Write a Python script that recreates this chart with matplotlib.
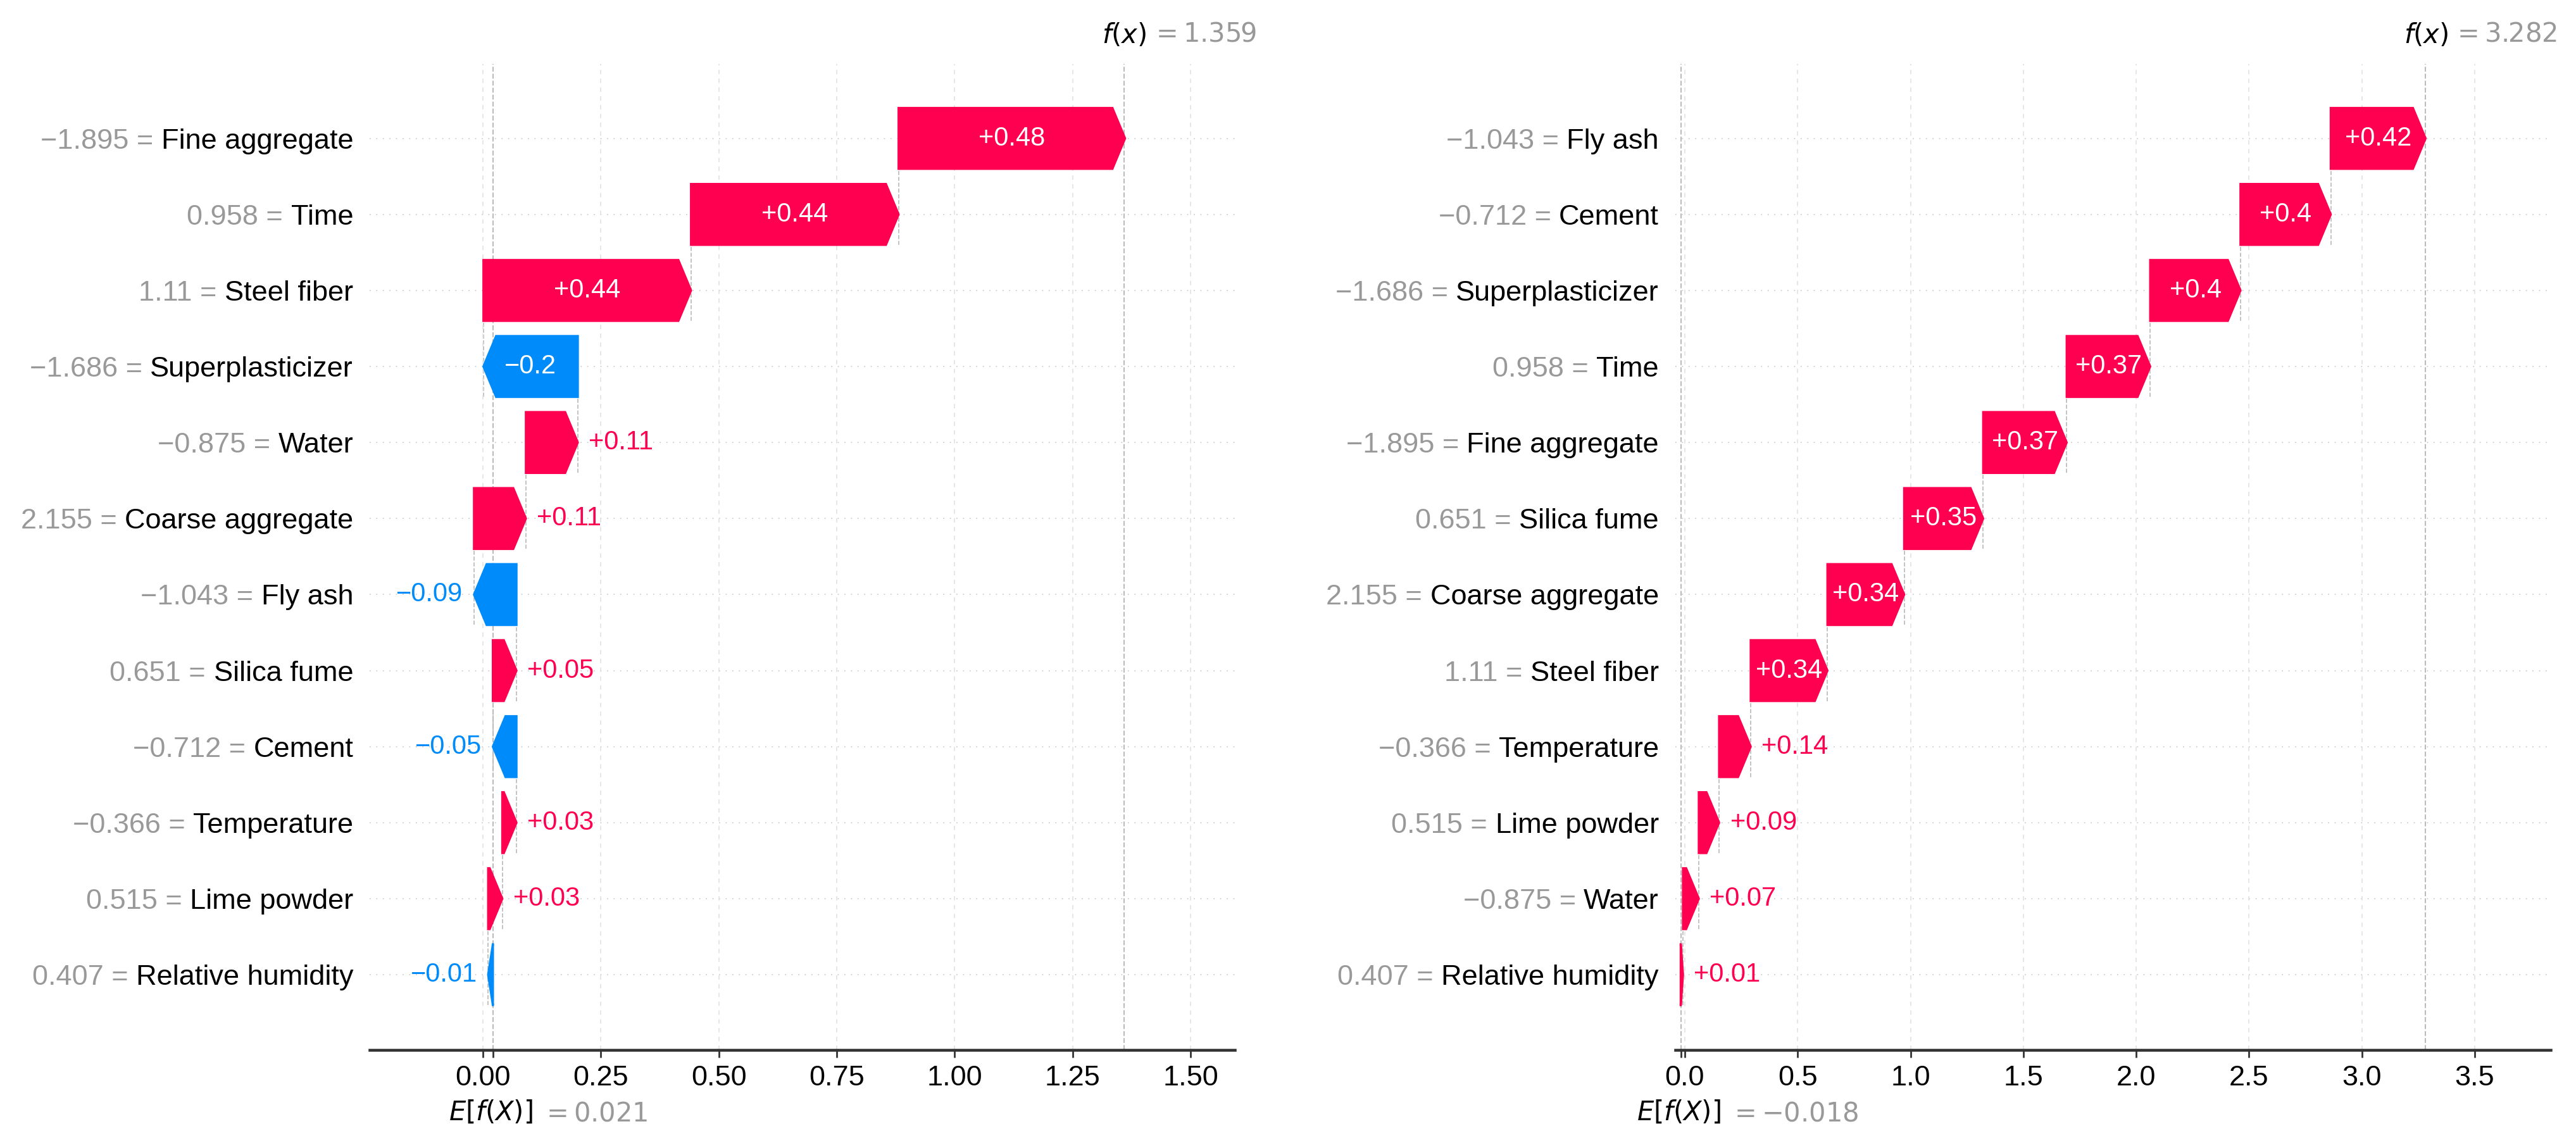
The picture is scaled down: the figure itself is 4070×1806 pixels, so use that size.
import numpy as np
import matplotlib
matplotlib.use("Agg")
import matplotlib.pyplot as plt
from matplotlib.transforms import blended_transform_factory

plt.rcParams['font.family'] = ['Liberation Sans', 'DejaVu Sans']

RED = (1.0, 0.0, 0.3176)
BLUE = (0.0, 0.5451, 0.9843)
GRAY = "#999999"

# left panel
left_names = ["Fine aggregate", "Time", "Steel fiber", "Superplasticizer", "Water",
              "Coarse aggregate", "Fly ash", "Silica fume", "Cement", "Temperature",
              "Lime powder", "Relative humidity"]
left_feat = [-1.895, 0.958, 1.11, -1.686, -0.875, 2.155, -1.043, 0.651, -0.712, -0.366, 0.515, 0.407]
left_shap = [0.48, 0.44, 0.44, -0.20, 0.11, 0.11, -0.09, 0.05, -0.05, 0.03, 0.03, -0.01]
left_base = 0.021
left_fx = 1.359
left_ticks = [0.0, 0.25, 0.5, 0.75, 1.0, 1.25, 1.5]

# right panel
right_names = ["Fly ash", "Cement", "Superplasticizer", "Time", "Fine aggregate",
               "Silica fume", "Coarse aggregate", "Steel fiber", "Temperature",
               "Lime powder", "Water", "Relative humidity"]
right_feat = [-1.043, -0.712, -1.686, 0.958, -1.895, 0.651, 2.155, 1.11, -0.366, 0.515, -0.875, 0.407]
right_shap = [0.42, 0.40, 0.40, 0.37, 0.37, 0.35, 0.34, 0.34, 0.14, 0.09, 0.07, 0.01]
right_base = -0.018
right_fx = 3.282
right_ticks = [0.0, 0.5, 1.0, 1.5, 2.0, 2.5, 3.0, 3.5]


def fmt(v, f):
    s = f % v
    if '.' in s:
        s = s.rstrip('0').rstrip('.')
    return s.replace('-', '\u2212')


def waterfall(ax, names, feat, vals, base, fx, xlim, ticks, tickfmt):
    fig = ax.figure
    n = len(names)
    vals = np.array(vals)
    rows = np.arange(n)[::-1]
    ax.set_xlim(*xlim)
    ax.set_ylim(-0.99, n - 0.02)
    renderer = fig.canvas.get_renderer()
    bbox = ax.get_window_extent().transformed(fig.dpi_scale_trans.inverted())
    xscale = (xlim[1] - xlim[0]) / bbox.width
    hl = 0.08 * xscale

    starts = base + np.concatenate([[0], np.cumsum(vals[::-1])[:-1]])[::-1]

    for i in range(n):
        y = rows[i]
        left = starts[i]
        d = vals[i]
        ax.axhline(y, color="#cccccc", lw=0.5, dashes=(1, 5), zorder=-1)
        if y > 0:
            ax.plot([left, left], [y - 1 - 0.4, y + 0.4], color="#bbbbbb",
                    ls="--", lw=0.5, zorder=-1)
        if d > 0:
            arr = ax.arrow(left, y, max(d - hl, 1e-6), 0, head_length=min(d, hl),
                           width=0.8, head_width=0.8, color=RED)
        else:
            arr = ax.arrow(left, y, -max(-d - hl, 1e-6), 0, head_length=min(-d, hl),
                           width=0.8, head_width=0.8, color=BLUE)
        lab = fmt(d, '%+0.02f')
        t = ax.text(left + d / 2, y, lab, ha='center', va='center', color='white', fontsize=12)
        if t.get_window_extent(renderer).width > arr.get_window_extent(renderer).width:
            t.remove()
            if d > 0:
                ax.text(left + d + 5 / 72 * xscale, y, lab, ha='left', va='center',
                        color=RED, fontsize=12)
            else:
                ax.text(left + d - 5 / 72 * xscale, y, lab, ha='right', va='center',
                        color=BLUE, fontsize=12)

    # y labels: black feature names, gray "value =" in front of them
    ax.set_yticks(rows)
    ax.set_yticklabels(names, fontsize=13)
    ax.tick_params(axis='y', length=0, pad=7.5)

    ax.set_xticks(ticks)
    ax.set_xticklabels([tickfmt % t for t in ticks], fontsize=13)
    ax.set_xticks([base], minor=True)
    ax.tick_params(axis='x', which='both', length=3.5, width=0.8, color='#333333')
    ax.grid(axis='x', color='#e3e3e3', ls=(0, (4, 4)), lw=0.5, zorder=-2)
    ax.set_axisbelow(True)
    for sp in ['top', 'right', 'left']:
        ax.spines[sp].set_visible(False)
    ax.spines['bottom'].set_color('#333333')
    ax.spines['bottom'].set_linewidth(1.3)

    ax.axvline(base, color="#bbbbbb", ls="--", lw=0.6, zorder=-1)
    ax.axvline(fx, color="#bbbbbb", ls="--", lw=0.6, zorder=-1)

    fig.canvas.draw()
    trans = blended_transform_factory(ax.transAxes, ax.transData)
    for tl, v, y in zip(ax.get_yticklabels(), feat, rows):
        x0 = tl.get_window_extent(renderer).x0
        xa = ax.transAxes.inverted().transform((x0, 0))[0]
        ax.annotate(fmt(v, '%0.03f') + ' =', xy=(xa, y), xycoords=trans,
                    xytext=(-3.6, 0), textcoords='offset points',
                    ha='right', va='center_baseline', fontsize=13, color=GRAY,
                    annotation_clip=False)

    # E[f(X)] and f(x) labels
    bval = fmt(base, '%0.03f').replace('\u2212', '-')
    fval = fmt(fx, '%0.03f').replace('\u2212', '-')
    ax.annotate('$E[f(X)]$', xy=(base, 0), xycoords=('data', 'axes fraction'),
                xytext=(-20, -7 - 15.5), textcoords='offset points',
                ha='left', va='top', fontsize=12, annotation_clip=False)
    ax.annotate('$ = ' + bval + '$', xy=(base, 0), xycoords=('data', 'axes fraction'),
                xytext=(22, -8 - 15.5), textcoords='offset points',
                ha='left', va='top', fontsize=12, color=GRAY, annotation_clip=False)
    ax.annotate('$f(x)$', xy=(fx, 1), xycoords=('data', 'axes fraction'),
                xytext=(-10, 7), textcoords='offset points',
                ha='left', va='bottom', fontsize=12, annotation_clip=False)
    ax.annotate('$ = ' + fval + '$', xy=(fx, 1), xycoords=('data', 'axes fraction'),
                xytext=(12, 7.5), textcoords='offset points',
                ha='left', va='bottom', fontsize=12, color=GRAY, annotation_clip=False)


fig = plt.figure(figsize=(4071 / 250, 1806 / 250), dpi=250)
ax1 = fig.add_axes([0.1435, 0.0814, 0.3358, 0.8627])
ax2 = fig.add_axes([0.6502, 0.0814, 0.3397, 0.8627])

waterfall(ax1, left_names, left_feat, left_shap, left_base, left_fx,
          (-0.240, 1.594), left_ticks, '%.2f')
waterfall(ax2, right_names, right_feat, right_shap, right_base, right_fx,
          (-0.042, 3.836), right_ticks, '%.1f')

fig.savefig('out.png', dpi=250)
